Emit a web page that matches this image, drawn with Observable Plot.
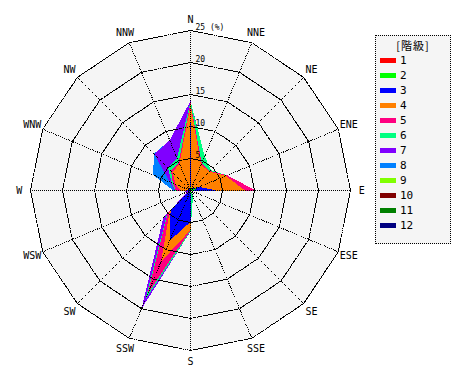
<!DOCTYPE html>
<html><head><meta charset="utf-8">
<script src="https://cdn.jsdelivr.net/npm/d3@7"></script>
<script src="https://cdn.jsdelivr.net/npm/@observablehq/plot@0.6"></script>
<style>
body{margin:0;background:#fff;}
#wrap{position:relative;width:470px;height:380px;overflow:hidden;}
#legend{position:absolute;left:375px;top:35px;width:74px;height:207px;border:1px dotted #000;background:#f5f5f5;font-family:"DejaVu Sans Mono",monospace;}
#legend .title{position:absolute;left:0;width:74px;top:2px;text-align:center;font-family:"Noto Sans CJK JP";font-size:11px;line-height:14px;color:#000;letter-spacing:1px;}
#legend .item{position:absolute;left:4px;height:15px;font-size:11px;line-height:15px;color:#000;}
#legend .sw{display:inline-block;width:16px;height:5px;vertical-align:middle;margin-right:4px;position:relative;top:-1px;}
</style></head><body><div id="wrap"></div>
<script>
const directions = ["N","NNE","NE","ENE","E","ESE","SE","SSE","S","SSW","SW","WSW","W","WNW","NW","NNW"];
const classes = ["1","2","3","4","5","6","7","8","9","10","11","12"];
const colors = ["#ff0000","#00ff00","#0000ff","#ff8000","#ff0080","#00ff80","#8000ff","#0080ff","#80ff00","#800000","#008000","#000080"];
// frequency (%) per class, in direction order N, NNE, ..., NNW
const c1  = [0.3,0.1,0.1,0.3,0.3,0,0,0,0.2,0.3,0.1,0,0.1,0.1,0.1,0.1];
const c2  = [0.2,0.1,0.2,0.7,0.2,0,0,0,0.3,0.2,0.1,0,0.1,0.1,0.1,0.1];
const c3  = [10.0,0.1,0.2,0.5,3.5,0,0,0,4.4,8.0,4.2,0,0.3,0.2,0.2,0.1];
const c4  = [2.8,4.0,3.7,4.5,4.5,0,0,0,1.3,3.5,0.2,0,1.0,2.1,3.6,4.2];
const c5  = [0.3,0.3,0.1,0.2,1.7,0,0,0,0,5.5,0.4,0,0.8,0.5,0.3,0.3];
const c6  = [0.3,1.2,0.2,0,0,0,0,1.0,0.2,1.0,0.2,0,0.1,0.2,0.7,0.7];
const c7  = [0.1,0,0,0,0,0,0,0,0,1.5,0.8,0.5,0.1,0.3,3.0,3.0];
const c8  = [0,0,0,0,0,0,0,0,0,0,0,0,0.2,2.8,0.1,0];
const c9  = [0,0,0,0,0,0,0,0,0,0,0,0,0,0,0,0];
const c10 = [0,0,0,0,0,0,0,0,0,0,0,0,0,0,0,0];
const c11 = [0,0,0,0,0,0,0,0,0,0,0,0,0,0,0,0];
const c12 = [0,0,0,0,0,0,0,0,0,0,0,0,0,0,0,0];
const ticks = [5,10,15,20,25];
const tickLabels = ["5","10","15","20","25 (%)"];
const rMax = 25;

const series = [c1,c2,c3,c4,c5,c6,c7,c8,c9,c10,c11,c12];
const ang = i => i * Math.PI * 2 / directions.length;
const px = (r, i) => r * Math.sin(ang(i));
const py = (r, i) => r * Math.cos(ang(i));

// cumulative polygons
const polys = classes.map((c, k) => directions.map((d, i) => {
  let cum = 0; for (let j = 0; j <= k; j++) cum += series[j][i];
  return {cls: c, dir: d, x: px(cum, i), y: py(cum, i)};
}));
const ringPts = ticks.flatMap(t => directions.map((d, i) => ({ring: t, x: px(t, i), y: py(t, i)})));
const outer = directions.map((d, i) => ({x: px(rMax, i), y: py(rMax, i)}));

const marks = [
  Plot.line(outer, {x: "x", y: "y", curve: "linear-closed", fill: "#f5f5f5", stroke: "none"})
];
for (let k = classes.length - 1; k >= 0; k--) {
  marks.push(Plot.line(polys[k], {x: "x", y: "y", curve: "linear-closed", fill: colors[k], stroke: "none", shapeRendering: "crispEdges"}));
}
marks.push(
  Plot.line(ringPts, {x: "x", y: "y", z: "ring", curve: "linear-closed", fill: "none", stroke: "#000", strokeWidth: 1, strokeDasharray: "1,1", shapeRendering: "crispEdges"}),
  Plot.link(directions, {x1: () => 0, y1: () => 0, x2: (d, i) => px(rMax, i), y2: (d, i) => py(rMax, i), stroke: "#000", strokeWidth: 1, strokeDasharray: "1,1", shapeRendering: "crispEdges"}),
  Plot.text(directions, {x: (d, i) => px(26.75, i), y: (d, i) => py(26.75, i), text: d => d, fontSize: 10, fontFamily: "DejaVu Sans Mono", fill: "#000", textAnchor: "middle", lineAnchor: "middle"}),
  Plot.text(ticks, {x: () => 0, y: t => t, text: (t, i) => tickLabels[i], dx: 5, dy: -1, fontSize: 8, fontFamily: "DejaVu Sans Mono", fill: "#000", textAnchor: "start", lineAnchor: "bottom"})
);

const chart = Plot.plot({
  width: 470, height: 380,
  marginLeft: 30, marginRight: 120, marginTop: 30, marginBottom: 30,
  x: {domain: [-rMax, rMax], axis: null},
  y: {domain: [-rMax, rMax], axis: null},
  style: {background: "#fff", fontFamily: "DejaVu Sans Mono", overflow: "visible"},
  marks
});
const wrap = document.getElementById("wrap");
wrap.appendChild(chart);

const legend = document.createElement("div");
legend.id = "legend";
const title = document.createElement("div");
title.className = "title"; title.textContent = "[階級]";
legend.appendChild(title);
classes.forEach((c, k) => {
  const it = document.createElement("div");
  it.className = "item";
  it.style.top = (17 + k * 15) + "px";
  it.innerHTML = `<span class="sw" style="background:${colors[k]}"></span>${c}`;
  legend.appendChild(it);
});
wrap.appendChild(legend);
</script></body></html>
